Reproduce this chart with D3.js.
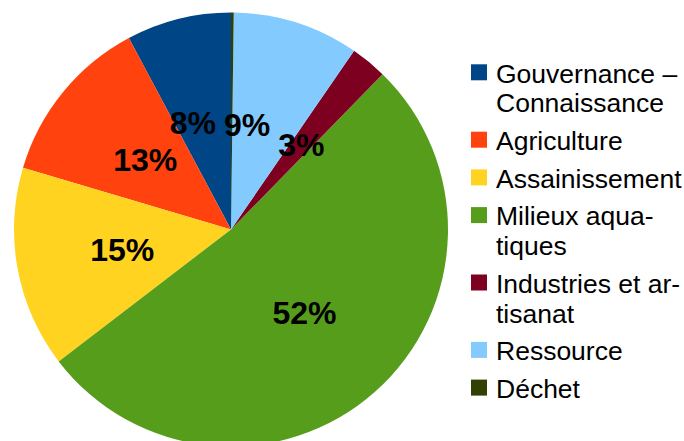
<!DOCTYPE html>
<html lang="fr">
<head>
<meta charset="utf-8">
<title>Répartition</title>
<script src="https://cdn.jsdelivr.net/npm/d3@7"></script>
<style>
  body { margin: 0; background: #fff; }
  svg { display: block; font-family: "Liberation Sans", Arial, sans-serif; }
</style>
</head>
<body>
<script>
// categories in the order of the legend (slices run counter-clockwise from 12 o'clock)
const categories = ["Gouvernance – Connaissance", "Agriculture", "Assainissement",
  "Milieux aquatiques", "Industries et artisanat", "Ressource", "Déchet"];
const legendLines = [["Gouvernance –", "Connaissance"], ["Agriculture"], ["Assainissement"],
  ["Milieux aqua-", "tiques"], ["Industries et ar-", "tisanat"], ["Ressource"], ["Déchet"]];
const shares = [7.8, 12.6, 15.0, 52.3, 2.7, 9.4, 0.2];
const colors = ["#004586", "#ff420e", "#ffd320", "#579d1c", "#7e0021", "#83caff", "#314004"];

let w = 684;
let h = 441;
let cx = 231, cy = 229.5, radius = 217;

let data = categories.map((c, i) => ({ name: c, lines: legendLines[i], value: shares[i], color: colors[i] }));
let total = d3.sum(shares);
let pct = d3.format(".0%");

let svg = d3.select("body").append("svg")
  .attr("width", w)
  .attr("height", h);

let pie = d3.pie()
  .value(d => d.value)
  .sort(null)
  .startAngle(0)
  .endAngle(-2 * Math.PI);

let arc = d3.arc().innerRadius(0).outerRadius(radius);
let labelArc = d3.arc().innerRadius(radius * 0.51).outerRadius(radius * 0.51);

let g = svg.append("g").attr("transform", "translate(" + cx + "," + cy + ")");

g.selectAll("path")
  .data(pie(data))
  .enter()
  .append("path")
  .attr("d", arc)
  .attr("fill", d => d.data.color);

let labels = g.selectAll("text")
  .data(pie(data).filter(d => d.data.value / total >= 0.01))
  .enter()
  .append("text")
  .attr("text-anchor", "middle")
  .attr("dy", "0.36em")
  .attr("font-size", 32)
  .attr("font-weight", "bold")
  .attr("fill", "#000")
  .text(d => pct(d.data.value / total));

// start every label on its slice, then slide overlapping ones to the left
let boxes = [];
labels.each(function(d) {
  let c = labelArc.centroid(d);
  let bb = this.getBBox();
  boxes.push({ node: this, x: c[0], y: c[1], w: bb.width, h: bb.height * 0.75 });
});
boxes.sort((a, b) => b.x - a.x);
let placed = [];
boxes.forEach(b => {
  placed.forEach(p => {
    let overlapY = Math.abs(b.y - p.y) < (b.h + p.h) / 2;
    let minDx = (b.w + p.w) / 2 + 8;
    if (overlapY && p.x - b.x < minDx && b.x <= p.x) b.x = p.x - minDx;
  });
  placed.push(b);
  d3.select(b.node).attr("transform", "translate(" + b.x + "," + b.y + ")");
});

// legend
let lineH = 29.7, gap = 8;
let legend = svg.append("g").attr("transform", "translate(471,0)");
let y = 82.6;
data.forEach(d => {
  let item = legend.append("g");
  item.append("rect")
    .attr("x", 0)
    .attr("y", y - 18.3)
    .attr("width", 16)
    .attr("height", 16)
    .attr("fill", d.color);
  d.lines.forEach((line, j) => {
    item.append("text")
      .attr("x", 25)
      .attr("y", y + j * lineH)
      .attr("font-size", 26.5)
      .attr("fill", "#000")
      .text(line);
  });
  y += d.lines.length * lineH + gap;
});
</script>
</body>
</html>
